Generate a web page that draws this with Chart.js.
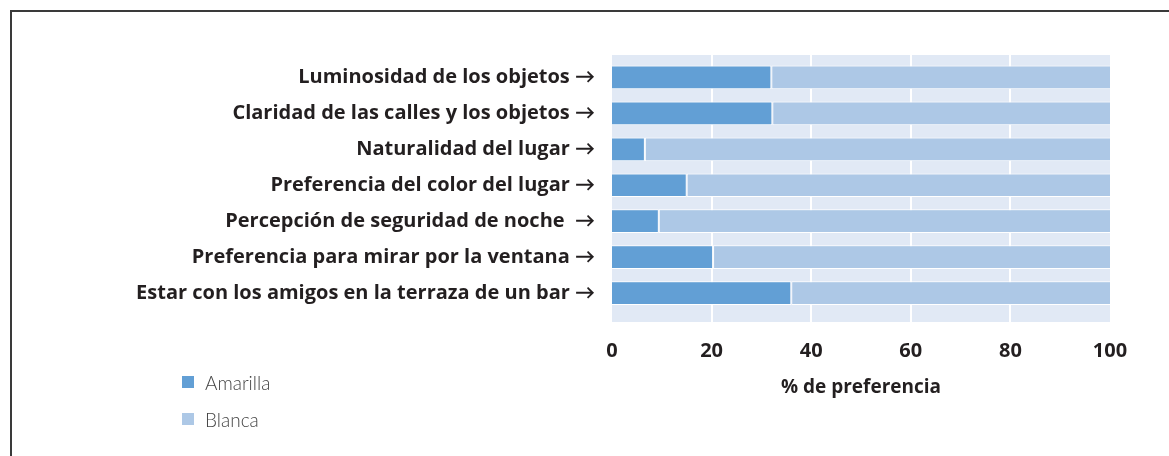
<!DOCTYPE html>
<html>
<head>
<meta charset="utf-8">
<script src="https://cdn.jsdelivr.net/npm/chart.js@4/dist/chart.umd.min.js"></script>
<style>
  html, body { margin: 0; padding: 0; background: #fff; }
  #wrap { position: relative; width: 1169px; height: 456px; overflow: hidden; }
  #frame { position: absolute; left: 10px; top: 10px; width: 1200px; height: 500px;
           border-top: 2px solid #3a3a3a; border-left: 2px solid #3a3a3a; box-sizing: border-box; }
  #chart { position: absolute; left: 0; top: 0; }
  #legend { position: absolute; left: 182px; top: 372px; font-family: Lato, "Open Sans", sans-serif;
            font-size: 19px; font-weight: 300; color: #444; }
  #legend .item { display: flex; align-items: center; height: 20px; margin-bottom: 17px; }
  #legend .box { width: 12px; height: 12px; margin-right: 11px; }
</style>
</head>
<body>
<div id="wrap">
  <div id="frame"></div>
  <canvas id="chart" width="1169" height="456"></canvas>
  <div id="legend"></div>
</div>
<script>
  const categories = [
    "Luminosidad de los objetos \u2192",
    "Claridad de las calles y los objetos \u2192",
    "Naturalidad del lugar \u2192",
    "Preferencia del color del lugar \u2192",
    "Percepci\u00f3n de seguridad de noche  \u2192",
    "Preferencia para mirar por la ventana \u2192",
    "Estar con los amigos en la terraza de un bar \u2192",
  ];
  const amarilla = [32, 32.2, 6.6, 15, 9.4, 20.3, 36];
  const blanca = [68, 67.8, 93.4, 85, 90.6, 79.7, 64];
  const xTicks = [0, 20, 40, 60, 80, 100];

  const DARK = "#629fd5";
  const LIGHT = "#adc8e6";
  const BG = "#e1e9f5";
  const TEXT = "#231f20";
  const FONT = "'Open Sans', Lato, sans-serif";

  // background panel + white vertical grid, extends a little past the bars
  const panelPlugin = {
    id: "panel",
    beforeDatasetsDraw(chart) {
      const { ctx, chartArea, scales } = chart;
      const top = chartArea.top - 4.5;
      const bottom = chartArea.bottom + 11;
      ctx.save();
      ctx.fillStyle = BG;
      ctx.fillRect(chartArea.left, top, chartArea.right - chartArea.left, bottom - top);
      ctx.strokeStyle = "#ffffff";
      ctx.lineWidth = 2;
      xTicks.slice(1, -1).forEach((v) => {
        const x = Math.round(scales.x.getPixelForValue(v));
        ctx.beginPath();
        ctx.moveTo(x, top);
        ctx.lineTo(x, bottom);
        ctx.stroke();
      });
      ctx.restore();
    },
  };

  const chart = new Chart(document.getElementById("chart"), {
    type: "bar",
    data: {
      labels: categories,
      datasets: [
        {
          label: "Amarilla",
          data: amarilla,
          backgroundColor: DARK,
          borderColor: "#ffffff",
          borderWidth: { top: 1, bottom: 1, left: 0, right: 1 },
          borderSkipped: false,
          barPercentage: 0.66,
          categoryPercentage: 1,
        },
        {
          label: "Blanca",
          data: blanca,
          backgroundColor: LIGHT,
          borderColor: "#ffffff",
          borderWidth: { top: 1, bottom: 1, left: 1, right: 0 },
          borderSkipped: false,
          barPercentage: 0.66,
          categoryPercentage: 1,
        },
      ],
    },
    options: {
      indexAxis: "y",
      responsive: false,
      animation: false,
      layout: { padding: { top: 59.5, right: 59, bottom: 49.4, left: 0 } },
      plugins: {
        legend: { display: false },
        tooltip: { enabled: false },
      },
      scales: {
        x: {
          stacked: true,
          min: 0,
          max: 100,
          afterBuildTicks: (scale) => {
            scale.ticks = xTicks.map((v) => ({ value: v }));
          },
          afterFit: (scale) => {
            scale.height = 95.6;
          },
          grid: { display: false, drawTicks: false },
          border: { display: false },
          ticks: {
            padding: 28.5,
            color: TEXT,
            font: { family: FONT, size: 20, weight: "bold" },
          },
          title: {
            display: true,
            text: "% de preferencia",
            color: TEXT,
            font: { family: FONT, size: 19, weight: "bold" },
            padding: { top: 12, bottom: 8 },
          },
        },
        y: {
          stacked: true,
          afterFit: (scale) => {
            scale.width = 612;
          },
          grid: { display: false, drawTicks: false },
          border: { display: false },
          ticks: {
            padding: 17,
            color: TEXT,
            font: { family: FONT, size: 20, weight: "bold" },
          },
        },
      },
    },
    plugins: [panelPlugin],
  });

  const legendEl = document.getElementById("legend");
  chart.data.datasets.forEach((ds) => {
    const item = document.createElement("div");
    item.className = "item";
    const box = document.createElement("span");
    box.className = "box";
    box.style.background = ds.backgroundColor;
    const txt = document.createElement("span");
    txt.textContent = ds.label;
    item.appendChild(box);
    item.appendChild(txt);
    legendEl.appendChild(item);
  });
</script>
</body>
</html>
